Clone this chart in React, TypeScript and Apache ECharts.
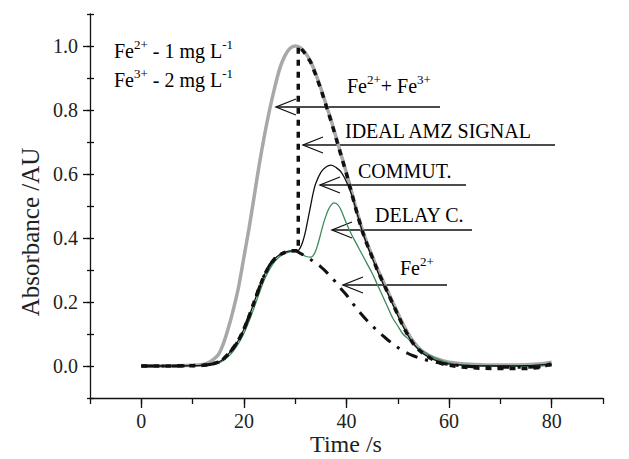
import React, { useEffect, useRef } from "react";
import * as echarts from "echarts";

const FONT = "Liberation Serif";

// Fe2+ + Fe3+ signal (grey)
const mixT = [0, 5, 10, 12, 13, 14, 15, 16, 17, 18, 19, 20, 21, 22, 23, 24, 25, 26, 27, 28, 29, 30, 31, 32, 33, 34, 35, 36, 37, 38, 39, 40, 41, 42, 43, 44, 45, 46, 47, 48, 49, 50, 51, 52, 53, 54, 55, 57, 60, 65, 70, 75, 78, 80];
const mixA = [0, 0, 0.002, 0.005, 0.01, 0.02, 0.035, 0.07, 0.12, 0.18, 0.25, 0.34, 0.43, 0.53, 0.63, 0.72, 0.8, 0.87, 0.93, 0.97, 0.993, 1.0, 0.995, 0.978, 0.952, 0.913, 0.868, 0.818, 0.768, 0.713, 0.658, 0.603, 0.545, 0.485, 0.43, 0.385, 0.345, 0.305, 0.27, 0.235, 0.2, 0.165, 0.132, 0.102, 0.077, 0.058, 0.044, 0.026, 0.012, 0.005, 0.003, 0.004, 0.007, 0.012];

// Fe2+ signal (dash-dot)
const fe2T = [0, 5, 10, 12, 13, 14, 15, 16, 17, 18, 19, 20, 21, 22, 23, 24, 25, 26, 27, 28, 29, 30, 31, 32, 33, 34, 35, 36, 37, 38, 39, 40, 41, 42, 43, 44, 45, 46, 47, 48, 49, 50, 51, 52, 53, 54, 55, 56, 58, 60, 63, 66, 70, 75, 78, 80];
const fe2A = [0, 0, 0.001, 0.002, 0.004, 0.007, 0.012, 0.022, 0.038, 0.058, 0.082, 0.115, 0.155, 0.2, 0.245, 0.285, 0.315, 0.335, 0.348, 0.355, 0.36, 0.36, 0.352, 0.343, 0.333, 0.322, 0.31, 0.295, 0.278, 0.26, 0.24, 0.222, 0.2, 0.18, 0.16, 0.142, 0.126, 0.11, 0.096, 0.082, 0.07, 0.058, 0.048, 0.039, 0.032, 0.026, 0.021, 0.017, 0.01, 0.005, 0, -0.003, -0.004, -0.004, -0.002, 0.004];

// Ideal AMZ signal (dashed)
const idealT = [0, 5, 10, 12, 13, 14, 15, 16, 17, 18, 19, 20, 21, 22, 23, 24, 25, 26, 27, 28, 29, 30, 30.6, 30.6, 31, 32, 33, 34, 35, 36, 37, 38, 39, 40, 41, 42, 43, 44, 45, 46, 47, 48, 49, 50, 51, 52, 53, 54, 55, 57, 59, 62, 66, 70, 75, 78, 80];
const idealA = [0, 0, 0.001, 0.002, 0.004, 0.007, 0.012, 0.022, 0.038, 0.058, 0.082, 0.115, 0.155, 0.2, 0.245, 0.285, 0.315, 0.335, 0.348, 0.355, 0.36, 0.36, 0.36, 1.0, 0.995, 0.975, 0.95, 0.91, 0.865, 0.815, 0.765, 0.71, 0.655, 0.6, 0.54, 0.48, 0.425, 0.38, 0.34, 0.3, 0.265, 0.23, 0.195, 0.16, 0.125, 0.095, 0.07, 0.052, 0.038, 0.018, 0.005, -0.003, -0.007, -0.008, -0.008, -0.004, 0.008];

// Commutation (thin black)
const comT = [0, 5, 10, 12, 13, 14, 15, 16, 17, 18, 19, 20, 21, 22, 23, 24, 25, 26, 27, 28, 29, 30, 30.5, 31, 31.5, 32, 32.5, 33, 33.5, 34, 35, 36, 37, 38, 39, 40, 41, 42, 43, 44, 45, 46, 47, 48, 49, 50, 51, 52, 53, 54, 55, 57, 60, 65, 70, 75, 80];
const comA = [0, 0, 0.001, 0.002, 0.004, 0.007, 0.012, 0.022, 0.038, 0.058, 0.082, 0.115, 0.155, 0.2, 0.245, 0.285, 0.315, 0.335, 0.348, 0.355, 0.36, 0.36, 0.36, 0.37, 0.39, 0.42, 0.46, 0.5, 0.54, 0.57, 0.605, 0.622, 0.628, 0.62, 0.605, 0.575, 0.535, 0.48, 0.425, 0.378, 0.338, 0.298, 0.262, 0.228, 0.193, 0.158, 0.124, 0.095, 0.07, 0.052, 0.038, 0.02, 0.006, 0.001, 0, 0.001, 0.006];

// Delay coil (green)
const delT = [0, 5, 10, 12, 13, 14, 15, 16, 17, 18, 19, 20, 21, 22, 23, 24, 25, 26, 27, 28, 29, 30, 31, 32, 33, 33.5, 34, 34.5, 35, 35.5, 36, 36.5, 37, 37.5, 38, 38.5, 39, 40, 41, 42, 43, 44, 45, 46, 47, 48, 49, 50, 51, 52, 53, 54, 55, 56, 58, 60, 63, 70, 75, 80];
const delA = [0, 0, 0.001, 0.002, 0.003, 0.005, 0.009, 0.017, 0.03, 0.048, 0.072, 0.102, 0.14, 0.183, 0.228, 0.27, 0.302, 0.326, 0.342, 0.352, 0.357, 0.358, 0.352, 0.343, 0.34, 0.345, 0.36, 0.385, 0.415, 0.445, 0.47, 0.49, 0.503, 0.51, 0.508, 0.5, 0.485, 0.445, 0.41, 0.38, 0.35, 0.32, 0.29, 0.255, 0.22, 0.185, 0.15, 0.125, 0.1, 0.085, 0.07, 0.055, 0.045, 0.035, 0.02, 0.01, 0.003, 0, -0.001, 0.001];

const X_LABELS = [0, 20, 40, 60, 80];
const Y_LABELS = [0, 0.2, 0.4, 0.6, 0.8, 1.0];
const Y_TITLE = "Absorbance /AU";
const X_TITLE = "Time /s";

const LEGEND_LINES = [
  "{n|Fe}{s|2+}{n| - 1 mg L}{s|-1}",
  "{n|Fe}{s|3+}{n| - 2 mg L}{s|-1}",
];
const ARROW_LABELS = [
  "{n|Fe}{s|2+}{n|+ Fe}{s|3+}",
  "{n|IDEAL AMZ SIGNAL}",
  "{n|COMMUT.}",
  "{n|DELAY C.}",
  "{n|Fe}{s|2+}",
];

// layout (pixels)
const LEGEND_POS = [[114, 51], [114, 80]];
const LABEL_POS = [[347, 86], [345, 131], [358, 171], [375, 215], [400, 268]];
const ARROW_POS = [
  { tip: 276, y: 107, end: 440 },
  { tip: 303, y: 145, end: 555 },
  { tip: 320, y: 185, end: 466 },
  { tip: 332, y: 230, end: 472 },
  { tip: 343, y: 285, end: 447 },
];

function zip(t: number[], a: number[]) {
  const n = Math.min(t.length, a.length);
  const out: number[][] = [];
  for (let i = 0; i < n; i++) out.push([t[i], a[i]]);
  return out;
}

const RICH = {
  n: { fontSize: 20, fontFamily: FONT, color: "#1a1a1a" },
  s: { fontSize: 13, fontFamily: FONT, color: "#1a1a1a", padding: [0, 0, 14, 0] },
};

export default function App() {
  const ref = useRef<HTMLDivElement>(null);
  useEffect(() => {
    const chart = echarts.init(ref.current!, null, { renderer: "svg" });
    const axisColor = "#111";
    const graphic: any[] = [];
    LEGEND_LINES.forEach((t, i) => {
      graphic.push({
        type: "text", x: LEGEND_POS[i][0], y: LEGEND_POS[i][1],
        style: { text: t, rich: RICH, fontFamily: FONT, fontSize: 20, align: "left", verticalAlign: "middle" },
      });
    });
    ARROW_LABELS.forEach((t, i) => {
      graphic.push({
        type: "text", x: LABEL_POS[i][0], y: LABEL_POS[i][1],
        style: { text: t, rich: RICH, fontFamily: FONT, fontSize: 20, align: "left", verticalAlign: "middle" },
      });
    });
    ARROW_POS.forEach((a) => {
      graphic.push({
        type: "line",
        shape: { x1: a.tip, y1: a.y, x2: a.end, y2: a.y },
        style: { stroke: "#111", lineWidth: 1.3 },
      });
      graphic.push({
        type: "polyline",
        shape: { points: [[a.tip + 20, a.y - 8], [a.tip, a.y], [a.tip + 20, a.y + 8]] },
        style: { stroke: "#111", lineWidth: 1.3, fill: null },
      });
    });
    graphic.push({
      type: "text", x: 30, y: 232, rotation: Math.PI / 2,
      style: { text: Y_TITLE, fontFamily: FONT, fontSize: 25, fill: "#222", align: "center", verticalAlign: "middle" },
    });
    graphic.push({
      type: "text", x: 346, y: 444,
      style: { text: X_TITLE, fontFamily: FONT, fontSize: 24, fill: "#222", align: "center", verticalAlign: "middle" },
    });

    const tickStyle = { color: axisColor, width: 1.3 };
    chart.setOption({
      animation: false,
      backgroundColor: "#fff",
      grid: { left: 90, right: 26, top: 14, bottom: 61, containLabel: false, outerBoundsMode: "none" },
      xAxis: [
        {
          type: "value", min: -10, max: 90, interval: 10,
          axisLine: { onZero: false, lineStyle: tickStyle },
          axisTick: { length: 6, lineStyle: tickStyle },
          splitLine: { show: false },
          axisLabel: { customValues: X_LABELS, fontSize: 20, fontFamily: FONT, color: "#222", margin: 13 },
        },
        {
          type: "value", min: -10, max: 90, position: "bottom",
          axisLine: { show: false, onZero: false },
          axisTick: { customValues: X_LABELS, length: 10, lineStyle: tickStyle },
          axisLabel: { show: false }, splitLine: { show: false },
        },
      ],
      yAxis: [
        {
          type: "value", min: -0.1, max: 1.1, interval: 0.1,
          axisLine: { show: true, onZero: false, lineStyle: tickStyle },
          axisTick: { show: true, length: 3, lineStyle: tickStyle },
          splitLine: { show: false },
          axisLabel: {
            customValues: Y_LABELS, fontSize: 20, fontFamily: FONT, color: "#222", margin: 12,
            formatter: (v: number) => v.toFixed(1),
          },
        },
        {
          type: "value", min: -0.1, max: 1.1, position: "left",
          axisLine: { show: false, onZero: false },
          axisTick: { show: true, customValues: Y_LABELS, length: 7, lineStyle: tickStyle },
          axisLabel: { show: false }, splitLine: { show: false },
        },
        {
          type: "value", min: -0.1, max: 1.1, interval: 0.1, position: "left",
          axisLine: { show: false, onZero: false },
          axisTick: { show: true, inside: true, length: 4, lineStyle: tickStyle },
          axisLabel: { show: false }, splitLine: { show: false },
        },
      ],
      series: [
        {
          name: "Fe2+ + Fe3+", type: "line", data: zip(mixT, mixA), showSymbol: false, symbol: "none",
          smooth: 0.3, lineStyle: { color: "#a8a8a8", width: 3.5 }, z: 1,
        },
        {
          name: "DELAY C.", type: "line", data: zip(delT, delA), showSymbol: false, symbol: "none",
          smooth: 0.3, lineStyle: { color: "#3b8a5a", width: 1.3 }, z: 2,
        },
        {
          name: "COMMUT.", type: "line", data: zip(comT, comA), showSymbol: false, symbol: "none",
          smooth: 0.3, lineStyle: { color: "#111", width: 1.3 }, z: 3,
        },
        {
          name: "Fe2+", type: "line", data: zip(fe2T, fe2A), showSymbol: false, symbol: "none",
          smooth: 0.3, lineStyle: { color: "#111", width: 3, type: [12, 8, 3, 8] }, z: 4,
        },
        {
          name: "IDEAL AMZ SIGNAL", type: "line", data: zip(idealT, idealA), showSymbol: false, symbol: "none",
          smooth: false, lineStyle: { color: "#111", width: 3.5, type: [6, 6] }, z: 5,
        },
      ],
      graphic,
    });
    return () => chart.dispose();
  }, []);
  return <div ref={ref} style={{ position: "absolute", left: 0, top: 0, width: 629, height: 459 }} />;
}
